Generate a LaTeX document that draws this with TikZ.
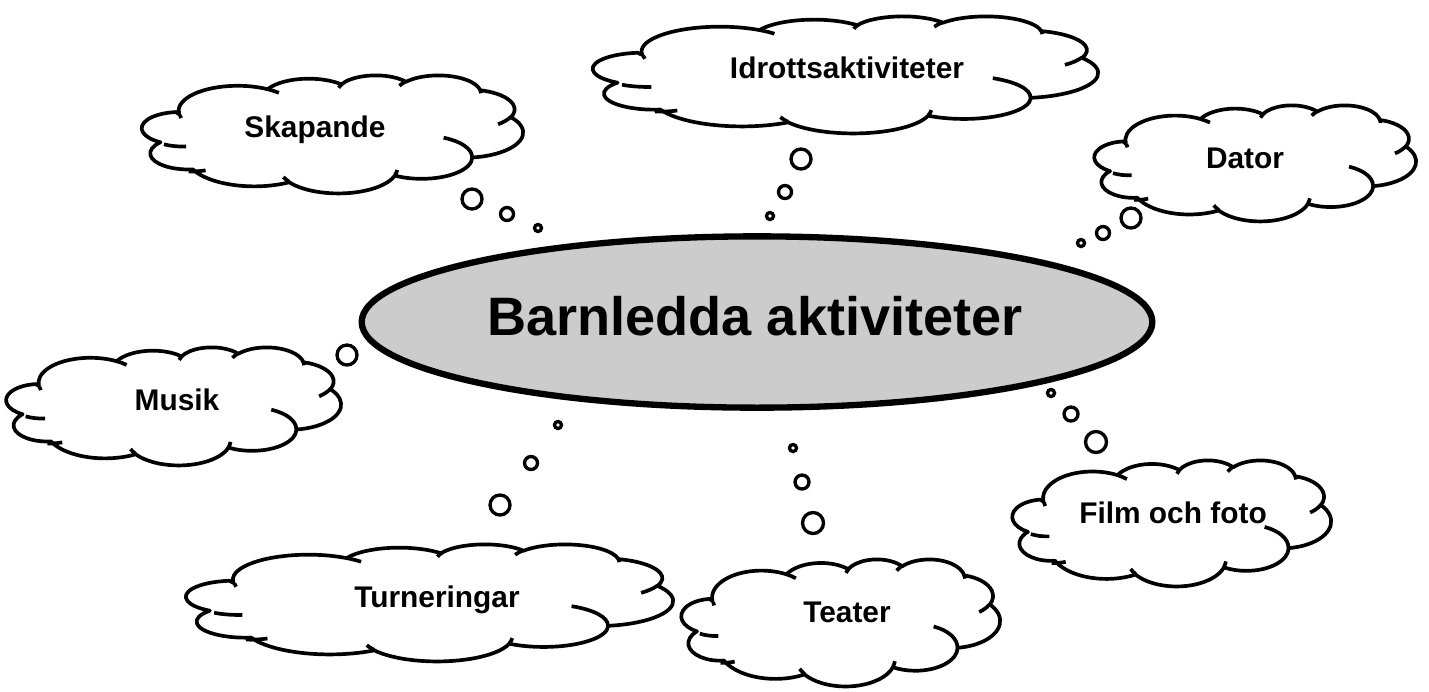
\documentclass[tikz,border=0pt]{standalone}
\usepackage{fontspec}
\setmainfont{Liberation Sans}
\usetikzlibrary{shapes.geometric}
\definecolor{hubgray}{RGB}{204,204,204}

% one lobe of the cloud outline (radii, start and sweep as visual angles)
\newcommand\cloudarc[4]{%
  \pgfmathsetmacro\arcfrom{atan2(#1*sin(#3),#2*cos(#3))}%
  \pgfmathsetmacro\arcto{atan2(#1*sin(#3+#4),#2*cos(#3+#4))}%
  \pgfmathsetmacro\arcto{\arcfrom+mod(\arcto-\arcfrom+720,360)}%
  \pgfpatharcaxes{\arcfrom}{\arcto}{\pgfpointxy{#1}{0}}{\pgfpointxy{0}{#2}}}

\newcommand\cloudbody{%
  \cloudarc{67.53}{91.90}{-190.4875}{123.7805}%
  \cloudarc{53.33}{72.67}{-144.1024}{89.9452}%
  \cloudarc{43.65}{59.45}{-145.8079}{99.7230}%
  \cloudarc{48.57}{65.95}{-130.9861}{117.2417}%
  \cloudarc{53.33}{72.73}{-78.7089}{109.0269}%
  \cloudarc{67.75}{92.20}{-46.2673}{130.2690}%
  \cloudarc{57.85}{78.67}{0.6250}{114.0333}%
  \cloudarc{67.52}{92.15}{22.4516}{115.1726}%
  \cloudarc{77.20}{105.43}{66.2426}{82.2746}%
  \cloudarc{43.60}{59.18}{-274.9421}{146.8272}%
  \cloudarc{43.45}{59.45}{-246.8285}{152.5195}}

% the short inner folds
\newcommand\cloudfolds{%
  \pgfpathmoveto{\pgfpointxy{46.93}{261.77}}\cloudarc{43.45}{59.45}{86.742}{26.4295}%
  \pgfpathmoveto{\pgfpointxy{69.28}{348.99}}\cloudarc{43.60}{59.18}{73.6105}{19.5138}%
  \pgfpathmoveto{\pgfpointxy{164.78}{390.90}}\cloudarc{67.52}{92.15}{137.6242}{14.0811}%
  \pgfpathmoveto{\pgfpointxy{288.27}{347.51}}\cloudarc{67.52}{92.15}{6.4533}{15.9984}%
  \pgfpathmoveto{\pgfpointxy{341.29}{229.54}}\cloudarc{57.85}{78.67}{-70.2924}{70.9174}%
  \pgfpathmoveto{\pgfpointxy{417.98}{153.54}}\cloudarc{53.33}{72.73}{30.3180}{27.7515}%
  \pgfpathmoveto{\pgfpointxy{383.24}{54.26}}\cloudarc{48.57}{65.95}{-13.7443}{14.8589}%
  \pgfpathmoveto{\pgfpointxy{290.78}{39.52}}\cloudarc{48.57}{65.95}{-149.1815}{18.1954}%
  \pgfpathmoveto{\pgfpointxy{221.41}{47.20}}\cloudarc{43.65}{59.45}{-163.4943}{17.6864}%
  \pgfpathmoveto{\pgfpointxy{140.00}{51.92}}\cloudarc{67.53}{91.90}{-66.7070}{12.3194}%
  \pgfpathmoveto{\pgfpointxy{41.27}{157.89}}\cloudarc{67.53}{91.90}{162.0488}{9.7490}}

% left, top, width, height
\newcommand\thoughtcloud[4]{%
  \begin{scope}[shift={(#1,#2)}, xscale=#3/432, yscale=#4/432]
    \draw[cloudline] (39,143.7) \pgfextra{\cloudbody} -- cycle;
    \draw[foldline] (39,143.7) \pgfextra{\cloudfolds};
  \end{scope}}

\tikzset{
  cloudline/.style={line width=2.1pt, line join=round, fill=white},
  foldline/.style={line width=2.1pt},
  bubble/.style={draw, fill=white, line width=1.9pt},
  cloudtext/.style={anchor=base, font=\fontsize{17}{20}\selectfont\bfseries},
  hub/.style={ellipse, draw, fill=hubgray, line width=3.6pt,
    minimum width=450pt, minimum height=97.5pt, inner sep=0pt},
  hubtext/.style={anchor=base, font=\fontsize{30.8}{36}\selectfont\bfseries}
}

\begin{document}
\begin{tikzpicture}[x=0.02cm, y=-0.02cm]
  \useasboundingbox (0,0) rectangle (1429,691);

  % Skapande
  \thoughtcloud{145}{75}{378}{118}
  \node[cloudtext] (skapande) at (315,137) {Skapande};
  \draw[bubble] (472,199) circle (10);
  \draw[bubble] (507,214) circle (6.5);
  \draw[bubble] (538,228) circle (3.5);

  % Idrottsaktiviteter
  \thoughtcloud{597}{16}{501}{117}
  \node[cloudtext] (idrott) at (847,78) {Idrottsaktiviteter};
  \draw[bubble] (801,159) circle (10);
  \draw[bubble] (785,192) circle (6.5);
  \draw[bubble] (770,216) circle (3.5);

  % Dator
  \thoughtcloud{1097}{105}{319}{116}
  \node[cloudtext] (dator) at (1245,168) {Dator};
  \draw[bubble] (1131,218) circle (10);
  \draw[bubble] (1103,233) circle (6.5);
  \draw[bubble] (1081,243) circle (3.5);

  % Musik
  \thoughtcloud{9}{347}{332}{118}
  \node[cloudtext] (musik) at (177,410) {Musik};
  \draw[bubble] (347,355) circle (10);

  % Turneringar
  \thoughtcloud{190}{544}{483}{117}
  \node[cloudtext] (turneringar) at (437,607) {Turneringar};
  \draw[bubble] (500,505) circle (10);
  \draw[bubble] (531,463) circle (6.5);
  \draw[bubble] (558,425) circle (3.5);

  % Teater
  \thoughtcloud{684}{559}{316}{127}
  \node[cloudtext] (teater) at (847,622) {Teater};
  \draw[bubble] (813,523) circle (10.5);
  \draw[bubble] (802,482) circle (7);
  \draw[bubble] (793,448) circle (3.5);

  % Film och foto
  \thoughtcloud{1015}{460}{316}{126}
  \node[cloudtext] (film) at (1173,523) {Film och foto};
  \draw[bubble] (1096,442) circle (10.5);
  \draw[bubble] (1071,414) circle (7);
  \draw[bubble] (1051,393) circle (3.5);

  % centre
  \node[hub] (hub) at (757,322) {};
  \node[hubtext] (title) at (755,335) {Barnledda aktiviteter};
\end{tikzpicture}
\end{document}
